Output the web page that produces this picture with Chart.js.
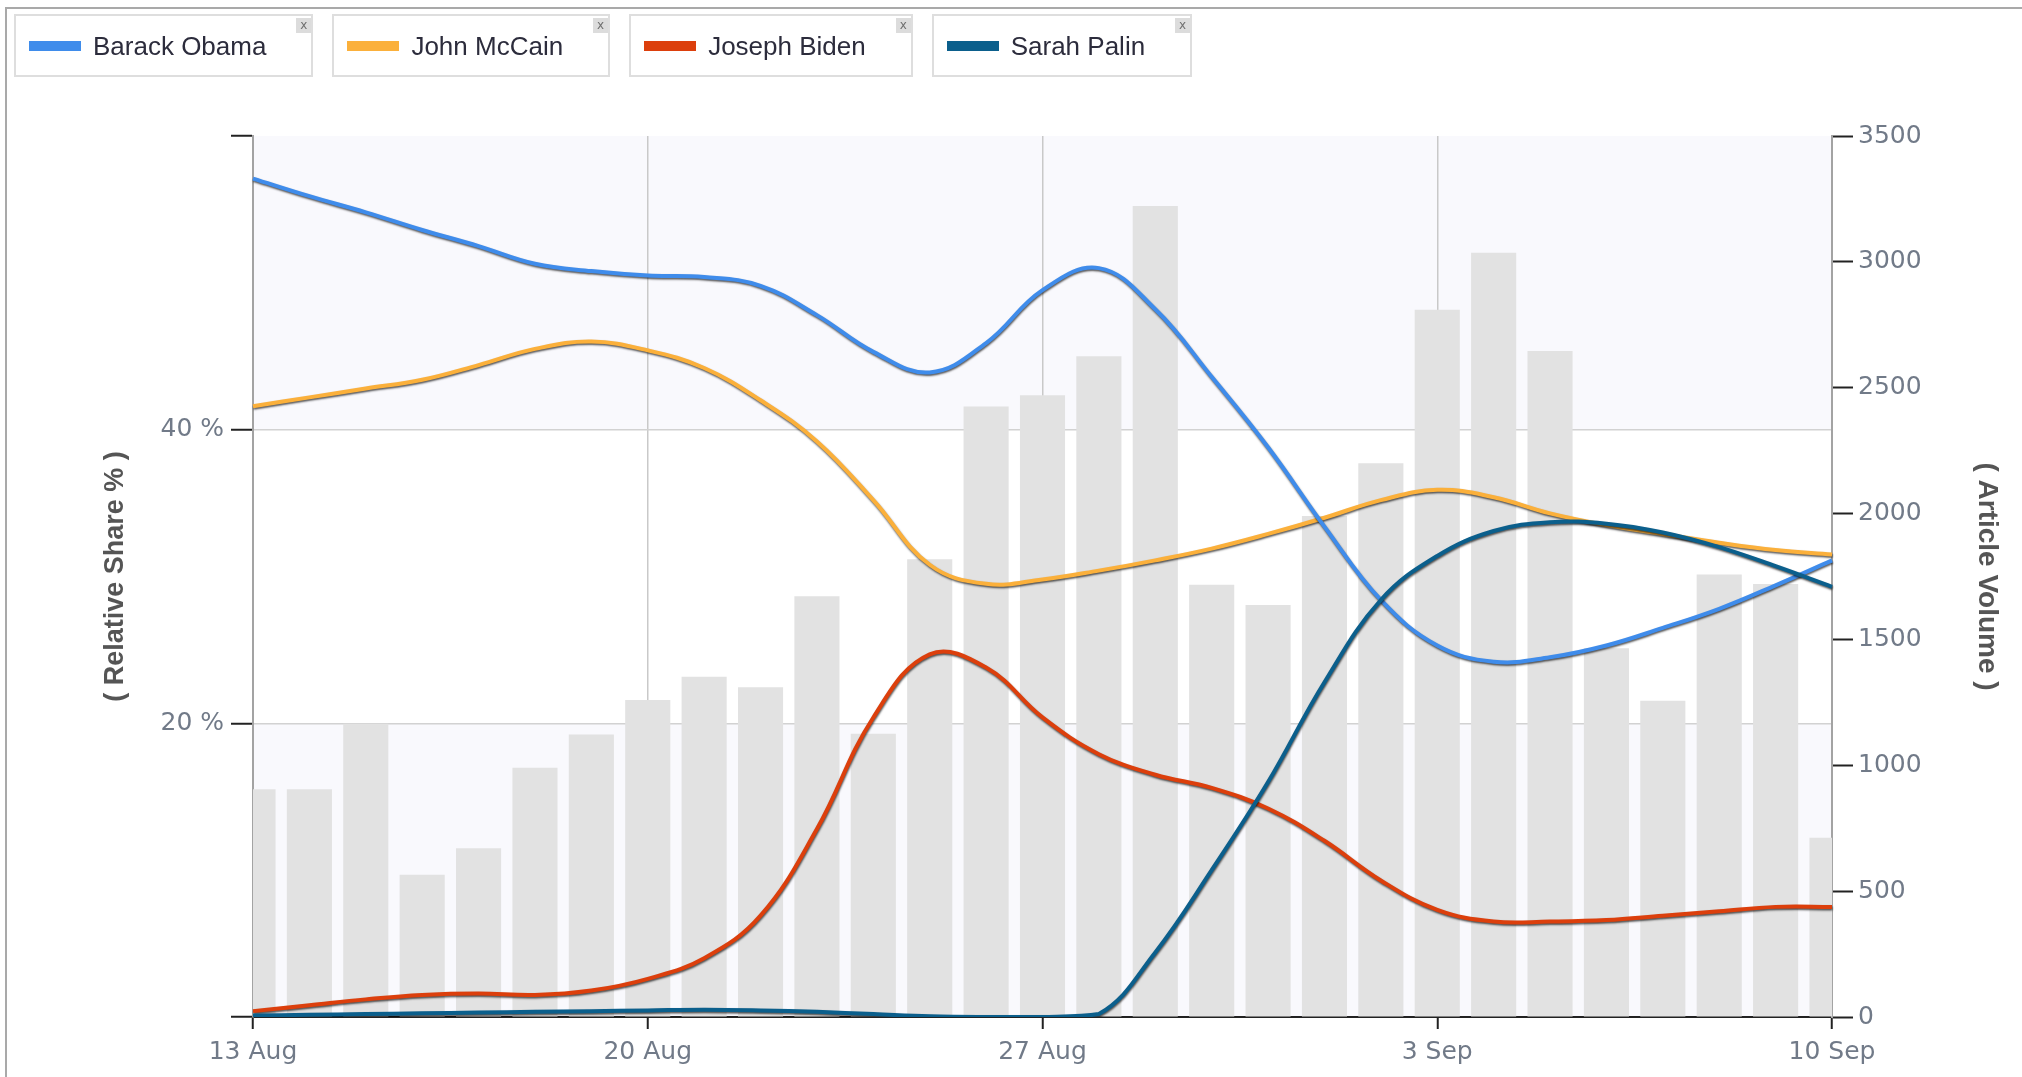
<!DOCTYPE html>
<html>
<head>
<meta charset="utf-8">
<script src="https://cdn.jsdelivr.net/npm/chart.js@4.4.0/dist/chart.umd.min.js"></script>
<style>
  html, body { margin: 0; padding: 0; background: #fff; }
  #wrap { position: relative; width: 2022px; height: 1077px; overflow: hidden; }
  #chart { position: absolute; left: 0; top: 0; }
  #frame { position: absolute; left: 5px; top: 7px; width: 2100px; height: 1100px;
           border-top: 2px solid #a9a9a9; border-left: 2px solid #a9a9a9; pointer-events: none; }
  #legend { position: absolute; left: 14px; top: 14px; display: flex; gap: 19px; }
  .item { position: relative; box-sizing: border-box; height: 63px; border: 2px solid #dedede;
          background: #fff; display: flex; align-items: center; padding: 1px 45px 0 13px;
          font-family: "Liberation Sans", sans-serif; font-size: 26px; color: #2c2c3c; }
  .swatch { width: 52px; height: 10px; margin-right: 12px; }
  .close { position: absolute; top: 2px; right: 0; width: 15px; height: 15px; background: #dcdcdc;
           color: #6f6f6f; font: 12px/14px "DejaVu Sans", sans-serif; text-align: center; }
</style>
</head>
<body>
<div id="wrap">
  <canvas id="chart" width="2022" height="1077"></canvas>
  <div id="frame"></div>
  <div id="legend"></div>
</div>
<script>
// categories (one per day)
const days = ["13 Aug", "14 Aug", "15 Aug", "16 Aug", "17 Aug", "18 Aug", "19 Aug", "20 Aug",
  "21 Aug", "22 Aug", "23 Aug", "24 Aug", "25 Aug", "26 Aug", "27 Aug", "28 Aug", "29 Aug",
  "30 Aug", "31 Aug", "1 Sep", "2 Sep", "3 Sep", "4 Sep", "5 Sep", "6 Sep", "7 Sep", "8 Sep",
  "9 Sep", "10 Sep"];

// article volume (right axis, bars)
const articleVolume = [905, 905, 1165, 565, 670, 990, 1122, 1259, 1352, 1310, 1672, 1125, 1819,
  2425, 2470, 2625, 3222, 1717, 1637, 1990, 2200, 2810, 3036, 2646, 1465, 1256, 1758, 1720, 712];

// relative share % (left axis, lines)
const obama = [57.1, 55.9, 54.8, 53.6, 52.5, 51.3, 50.8, 50.5, 50.4, 49.8, 47.8, 45.3, 43.9,
  45.9, 49.5, 51.0, 48.2, 43.6, 38.8, 33.4, 28.4, 25.3, 24.2, 24.5, 25.3, 26.5, 27.8, 29.4, 31.1];
const mccain = [41.6, 42.2, 42.8, 43.4, 44.4, 45.5, 46.0, 45.4, 44.2, 42.0, 39.2, 35.2, 30.8,
  29.5, 29.8, 30.4, 31.1, 31.9, 32.9, 34.0, 35.2, 35.9, 35.4, 34.3, 33.5, 32.9, 32.3, 31.8, 31.5];
const biden = [0.4, 0.8, 1.2, 1.5, 1.6, 1.5, 1.8, 2.6, 4.0, 6.9, 12.8, 20.4, 24.7, 23.8, 20.4,
  17.9, 16.5, 15.6, 14.2, 12.0, 9.3, 7.3, 6.5, 6.5, 6.6, 6.9, 7.2, 7.5, 7.5];
const palin = [0.1, 0.15, 0.2, 0.25, 0.3, 0.35, 0.4, 0.45, 0.5, 0.45, 0.35, 0.2, 0.05, 0, 0,
  0.2, 4.4, 10.0, 16.0, 22.8, 28.4, 31.4, 33.1, 33.7, 33.6, 33.0, 32.0, 30.7, 29.3];

const shareTicks = [20, 40];

const tickFont = { family: "DejaVu Sans", size: 25 };
const tickColor = "#717a88";

// light bands behind the plot (0-20 and 40-60)
const bandPlugin = {
  id: "bands",
  beforeDraw(chart) {
    const { ctx, chartArea, scales } = chart;
    const y = scales.yL;
    ctx.save();
    ctx.fillStyle = "#f9f9fd";
    [[0, 20], [40, 60]].forEach(([a, b]) => {
      const top = y.getPixelForValue(b);
      const bottom = y.getPixelForValue(a);
      ctx.fillRect(chartArea.left, top, chartArea.right - chartArea.left, bottom - top);
    });
    ctx.restore();
  }
};

// dark edge under the lines
const shadowPlugin = {
  id: "lineShadow",
  beforeDatasetDraw(chart, args) {
    if (args.meta.type !== "line") return;
    const ctx = chart.ctx;
    ctx.save();
    ctx.shadowColor = "rgba(0,0,0,0.65)";
    ctx.shadowBlur = 2;
    ctx.shadowOffsetX = 0.5;
    ctx.shadowOffsetY = 1.5;
  },
  afterDatasetDraw(chart, args) {
    if (args.meta.type !== "line") return;
    chart.ctx.restore();
  }
};

function lineSet(label, data, color, order) {
  return {
    type: "line", label, data, borderColor: color, backgroundColor: color,
    borderWidth: 4, pointRadius: 0, tension: 0.4, yAxisID: "yL", order
  };
}

const datasets = [
  lineSet("Barack Obama", obama, "#3f8ceb", 2),
  lineSet("John McCain", mccain, "#fbb03b", 4),
  lineSet("Joseph Biden", biden, "#dc3f0c", 3),
  lineSet("Sarah Palin", palin, "#0b5f8c", 1),
  {
    type: "bar", label: "Article Volume", data: articleVolume, backgroundColor: "#e2e2e2",
    yAxisID: "yR", order: 10, barPercentage: 0.8, categoryPercentage: 1, clip: 0
  }
];

// html legend
const legend = document.getElementById("legend");
datasets.filter(d => d.type === "line").forEach(d => {
  const item = document.createElement("div");
  item.className = "item";
  item.innerHTML = '<span class="swatch" style="background:' + d.borderColor + '"></span>' +
    '<span>' + d.label + '</span><span class="close">x</span>';
  legend.appendChild(item);
});

const ctx = document.getElementById("chart").getContext("2d");
new Chart(ctx, {
  data: { labels: days, datasets },
  plugins: [bandPlugin, shadowPlugin],
  options: {
    responsive: false,
    animation: false,
    layout: { padding: { top: 136, bottom: 0, left: 0, right: 0 } },
    plugins: { legend: { display: false }, tooltip: { enabled: false } },
    scales: {
      x: {
        type: "category",
        offset: false,
        grid: {
          offset: false,
          color: c => (c.index % 7 === 0 && c.index > 0 && c.index < days.length - 1) ? "#c9c9c9" : "rgba(0,0,0,0)",
          lineWidth: 1.5,
          tickLength: 12,
          tickWidth: 2,
          tickColor: c => c.index % 7 === 0 ? "#222" : "rgba(0,0,0,0)"
        },
        border: { color: "#222", width: 2 },
        ticks: {
          autoSkip: false, maxRotation: 0, padding: 8, color: tickColor, font: tickFont,
          callback: (v, i) => i % 7 === 0 ? days[i] : ""
        },
        afterFit: s => { s.height = 60; }
      },
      yL: {
        position: "left",
        min: 0, max: 60,
        ticks: {
          stepSize: 20, padding: 7, color: tickColor, font: tickFont,
          callback: v => shareTicks.includes(v) ? v + " %" : ""
        },
        grid: {
          color: c => shareTicks.includes(c.tick.value) ? "#d2d2d2" : "rgba(0,0,0,0)",
          lineWidth: 1.5, tickLength: 22, tickWidth: 2, tickColor: "#222"
        },
        border: { color: "#a3a3a3", width: 2 },
        title: {
          display: true, text: "( Relative Share % )", color: "#555",
          font: { family: "Liberation Sans", size: 27, weight: "bold" },
          padding: { top: 99, bottom: 0 }
        },
        afterFit: s => { s.width = 253; }
      },
      yR: {
        position: "right",
        min: 0, max: 3500,
        ticks: { stepSize: 500, padding: 5, color: tickColor, font: tickFont, callback: v => String(v) },
        grid: { drawOnChartArea: false, tickLength: 21, tickWidth: 2, tickColor: "#222" },
        border: { color: "#a3a3a3", width: 2 },
        title: {
          display: true, text: "( Article Volume )", color: "#555",
          font: { family: "Liberation Sans", size: 28, weight: "bold" },
          padding: { top: 18, bottom: 0 }
        },
        afterFit: s => { s.width = 190; }
      }
    }
  }
});
</script>
</body>
</html>
